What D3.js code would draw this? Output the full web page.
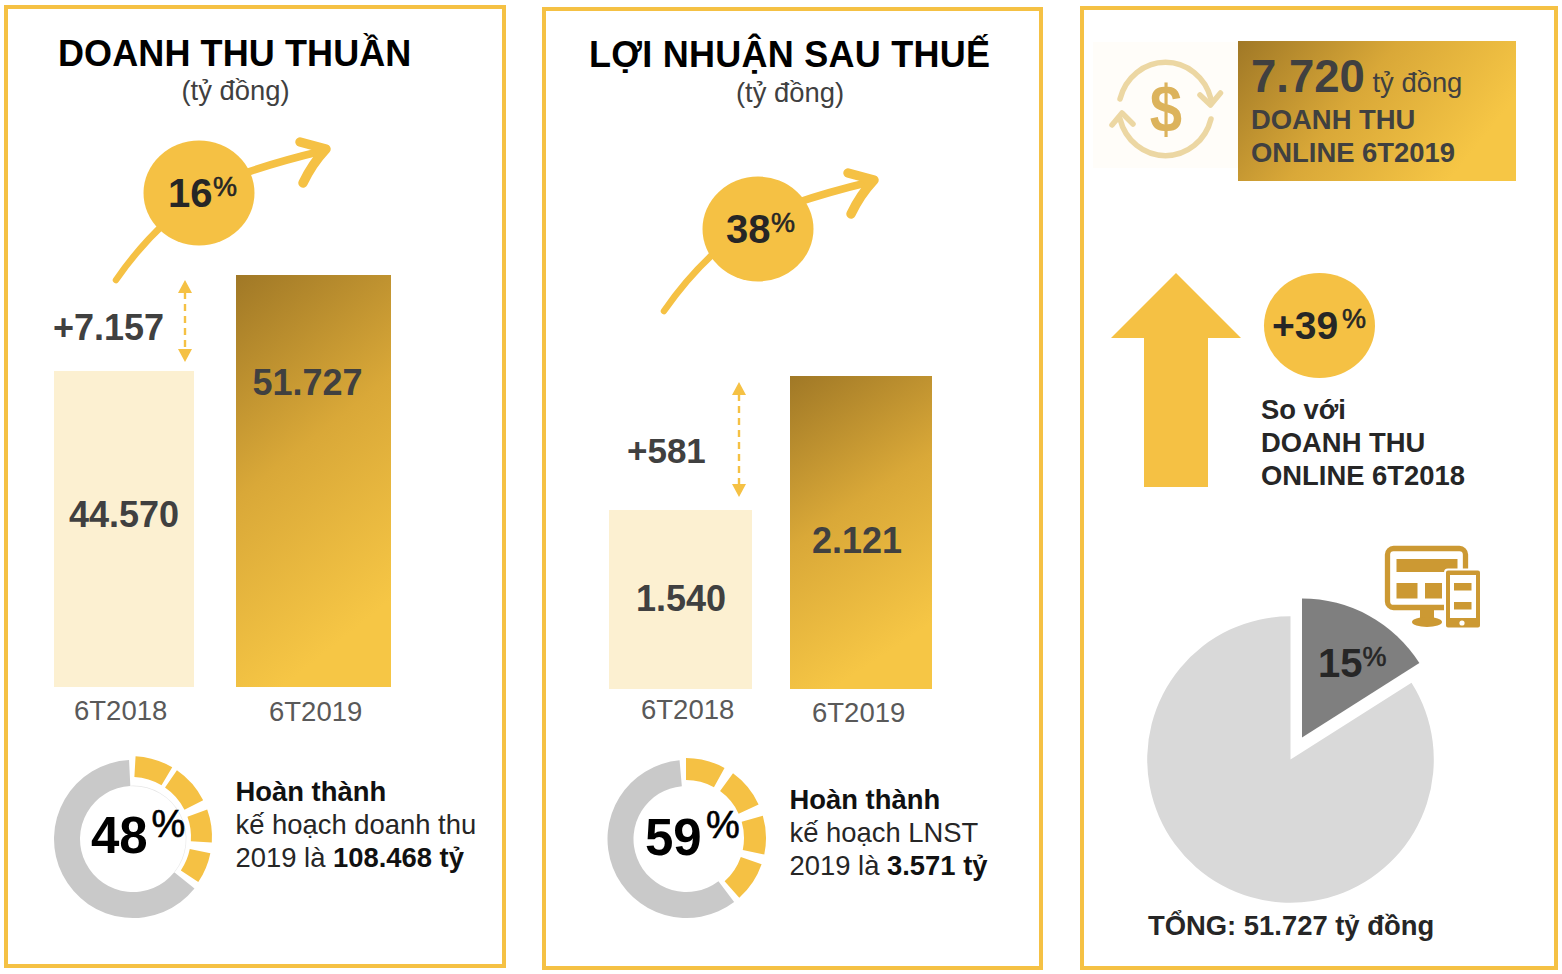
<!DOCTYPE html>
<html>
<head>
<meta charset="utf-8">
<title>Kết quả kinh doanh 6T2019</title>
<script src="https://cdn.jsdelivr.net/npm/d3@7/dist/d3.min.js"></script>
<style>
    html, body { margin: 0; padding: 0; background: #fff; }
    svg { display: block; }
    text { font-family: "Liberation Sans", Arial, sans-serif; }
</style>
</head>
<body>
<div id="chart"></div>
<script>
// Values.
var periods = ["6T2018", "6T2019"];
var revenueValues = [44570, 51727];
var profitValues = [1540, 2121];

// The bars in the picture do not start at zero, these are the implied baselines.
var revenueBase = 21000;
var profitBase = 764;

// Ring segments, in percent of the circle (from, to), as they are drawn in the picture.
var revenueRingGold = [[0.9, 8.5], [9.6, 17.5], [19.5, 26.1], [28.2, 34.4]];
var revenueRingGrey = [35.8, 99.2];
var profitRingGold = [[0, 8], [10, 18.1], [20.5, 28.3], [30.3, 38.4]];
var profitRingGrey = [39.7, 98.6];

// Online share pie, the drawn wedge is a bit wider than its 15% label.
var onlineShare = [16, 84];

var GOLD = "#f5c144";
var DARK = "#404040";
var INK = "#262626";
var BODY = 27.4;

var svg = d3.select("#chart").append("svg")
    .attr("width", 1562)
    .attr("height", 974);

var fmt = d3.formatLocale({decimal: ",", thousands: ".", grouping: [3], currency: ["", ""]}).format(",d");

// Gold gradient shared by the big bars and the box.
var defs = svg.append("defs");
function addGradient(id, x2, y2) {
    var g = defs.append("linearGradient").attr("id", id)
        .attr("x1", 0).attr("y1", 0).attr("x2", x2).attr("y2", y2);
    g.append("stop").attr("offset", "0%").attr("stop-color", "#a07826");
    g.append("stop").attr("offset", "50%").attr("stop-color", "#d9a838");
    g.append("stop").attr("offset", "100%").attr("stop-color", "#f6c645");
}
addGradient("barGold", 0.3, 1);
addGradient("boxGold", 1, 0.4);

function label(x, y, str, size, weight, color, anchor) {
    return svg.append("text")
        .attr("x", x)
        .attr("y", y)
        .attr("font-size", size)
        .attr("font-weight", weight || "normal")
        .attr("fill", color || INK)
        .attr("text-anchor", anchor || "start")
        .text(str);
}

// number with the small raised percent sign
function percent(x, y, num, size, signX, signY, signSize, color) {
    label(x, y, num, size, "bold", color || INK);
    label(signX, signY, "%", signSize, "normal", color || INK)
        .attr("stroke", color || INK)
        .attr("stroke-width", 0.6);
}

function panel(x, y, w, h) {
    svg.append("rect")
        .attr("x", x).attr("y", y)
        .attr("width", w).attr("height", h)
        .attr("fill", "#fff")
        .attr("stroke", GOLD)
        .attr("stroke-width", 4);
}

// the curved arrow that passes behind the growth circle
function growthArrow(dx, dy) {
    var g = svg.append("g")
        .attr("transform", "translate(" + dx + "," + dy + ")")
        .attr("fill", "none")
        .attr("stroke", GOLD)
        .attr("stroke-linecap", "round")
        .attr("stroke-linejoin", "round");
    g.append("path").attr("stroke-width", 6.5)
        .attr("d", "M116,280 Q138,248 166,222");
    g.append("path").attr("stroke-width", 7.5)
        .attr("d", "M245,173 Q280,161 322,151");
    g.append("path").attr("stroke-width", 9.5)
        .attr("d", "M300,142 L326,149 Q312,164 303,183");
}

function growthCircle(cx, cy) {
    svg.append("ellipse")
        .attr("cx", cx).attr("cy", cy)
        .attr("rx", 55.5).attr("ry", 52.5)
        .attr("fill", GOLD);
}

function doubleArrow(x, y1, y2) {
    svg.append("line")
        .attr("x1", x).attr("x2", x)
        .attr("y1", y1 + 12).attr("y2", y2 - 12)
        .attr("stroke", GOLD)
        .attr("stroke-width", 2.4)
        .attr("stroke-dasharray", "7,5");
    svg.append("path")
        .attr("fill", GOLD)
        .attr("d", "M" + x + "," + y1 + " l7,13 h-14 z M" + x + "," + y2 + " l7,-13 h-14 z");
}

// Two bars of a panel, y comes from a truncated linear scale.
function bars(values, base, bottom, top, layout) {
    var y = d3.scaleLinear()
        .domain([base, d3.max(values)])
        .range([bottom, top]);
    var left = d3.scaleOrdinal().domain(periods).range(layout.x);
    var width = d3.scaleOrdinal().domain(periods).range(layout.w);
    var rows = periods.map(function (p, i) {
        return {period: p, value: values[i], index: i};
    });

    svg.selectAll(null)
        .data(rows)
        .enter()
        .append("rect")
        .attr("x", function (d) { return left(d.period); })
        .attr("y", function (d) { return y(d.value); })
        .attr("width", function (d) { return width(d.period); })
        .attr("height", function (d) { return bottom - y(d.value); })
        .attr("fill", function (d) { return d.index == 0 ? "#fcf0d1" : "url(#barGold)"; });

    rows.forEach(function (d) {
        label(layout.valueX[d.index], layout.valueY[d.index], fmt(d.value), 36, "bold", DARK);
        label(layout.tickX[d.index], layout.tickY[d.index], d.period, 27.5, "normal", "#595959");
    });
}

// Progress ring, grey part and the gold pieces have slightly different centres.
function ring(cx, cy, grey, gold, goldCx, goldCy, goldInner, goldOuter, hairline) {
    var turn = d3.scaleLinear().domain([0, 100]).range([0, 2 * Math.PI]);
    var arc = d3.arc();

    svg.append("path")
        .attr("transform", "translate(" + cx + "," + cy + ")")
        .attr("fill", "#c9c9c9")
        .attr("d", arc({
            innerRadius: 53, outerRadius: 79,
            startAngle: turn(grey[0]), endAngle: turn(grey[1])
        }));
    if (hairline) {
        svg.append("path")
            .attr("transform", "translate(" + cx + "," + cy + ")")
            .attr("fill", "#e6e6e6")
            .attr("d", arc({
                innerRadius: 52.8, outerRadius: 53.4,
                startAngle: turn(grey[1] - 100), endAngle: turn(grey[0])
            }));
    }
    svg.append("g")
        .attr("transform", "translate(" + goldCx + "," + goldCy + ")")
        .selectAll("path")
        .data(gold)
        .enter()
        .append("path")
        .attr("fill", GOLD)
        .attr("d", function (d) {
            return arc({
                innerRadius: goldInner, outerRadius: goldOuter,
                startAngle: turn(d[0]), endAngle: turn(d[1])
            });
        });
}

function planText(x, y, line2, year, amount) {
    label(x, y, "Hoàn thành", BODY, "bold", "#111");
    label(x, y + 33, line2, BODY, "normal", INK);
    var t = label(x, y + 66, year + " là ", BODY, "normal", INK);
    t.append("tspan").attr("font-weight", "bold").attr("fill", "#111").text(amount);
}

//Panel 1
panel(6, 7, 498, 959);
label(58, 66, "DOANH THU THUẦN", 36, "bold", "#000").attr("letter-spacing", 0.1);
label(235.5, 100, "(tỷ đồng)", BODY, "normal", DARK, "middle");
growthArrow(0, 0);
growthCircle(199, 193);
percent(168, 207, "16", 40, 213, 196, 27);
doubleArrow(185, 280, 362);
label(53, 340, "+7.157", 36, "bold", DARK);
bars(revenueValues, revenueBase, 687, 275, {
    x: [54, 236], w: [140, 155],
    valueX: [69, 252.5], valueY: [527, 395],
    tickX: [74, 269], tickY: [720, 721]
});
ring(133, 839, revenueRingGrey, revenueRingGold, 131, 837, 60, 81, true);
percent(91, 853, "48", 51, 151.5, 837, 38, "#000");
planText(235.5, 801, "kế hoạch doanh thu", "2019", "108.468 tỷ");

//Panel 2
panel(544, 9, 497, 959);
label(589, 67, "LỢI NHUẬN SAU THUẾ", 36, "bold", "#000").attr("letter-spacing", 0.25);
label(790, 102, "(tỷ đồng)", BODY, "normal", DARK, "middle");
growthArrow(548, 31);
growthCircle(758, 229);
percent(726, 243, "38", 40, 771, 232, 27);
doubleArrow(739, 382, 497);
label(627, 463, "+581", 35, "bold", DARK);
bars(profitValues, profitBase, 689, 376, {
    x: [609, 790], w: [143, 142],
    valueX: [636, 812], valueY: [611, 553],
    tickX: [641, 812], tickY: [719, 722]
});
ring(686.5, 839, profitRingGrey, profitRingGold, 686, 838, 58, 80, false);
percent(645, 855, "59", 51, 706, 838, 38, "#000");
planText(789.5, 809, "kế hoạch LNST", "2019", "3.571 tỷ");

//Panel 3
panel(1082, 8, 474, 960);

// money icon with the two round arrows
svg.append("rect")
    .attr("x", 1093).attr("y", 42)
    .attr("width", 145).attr("height", 126)
    .attr("fill", "#fffdf9");
var money = svg.append("g")
    .attr("transform", "translate(1166,109)")
    .attr("fill", "none")
    .attr("stroke", "#ecd7a3")
    .attr("stroke-width", 5.5)
    .attr("stroke-linecap", "round")
    .attr("stroke-linejoin", "round");
money.append("path").attr("d", "M-46,-10 A47,49 0 0 1 45,-10");
money.append("path").attr("d", "M34,-14 L44.5,-4 L54.5,-16");
money.append("path").attr("d", "M45,10 A47,49 0 0 1 -46,10");
money.append("path").attr("d", "M-54,16 L-44,4 L-33,15");
label(0, 0, "$", 66, "bold", "#dcb35c", "middle")
    .attr("transform", "translate(1166,132) scale(0.88,1)");

svg.append("rect")
    .attr("x", 1238).attr("y", 41)
    .attr("width", 278).attr("height", 140)
    .attr("fill", "url(#boxGold)");
label(1251, 92, "7.720", 45.5, "bold", DARK);
label(1372.5, 92, "tỷ đồng", BODY, "normal", DARK);
label(1251, 129, "DOANH THU", BODY, "bold", DARK);
label(1251, 162, "ONLINE 6T2019", BODY, "bold", DARK);

// big up arrow
svg.append("path")
    .attr("fill", GOLD)
    .attr("d", "M1176,273 L1241,338 H1208 V487 H1144 V338 H1111 Z");

growthCircle(1319.5, 325.5);
percent(1272, 339, "+39", 39, 1342, 328, 27);
label(1261, 419, "So với", BODY, "bold", INK);
label(1261, 452, "DOANH THU", BODY, "bold", INK);
label(1261, 485, "ONLINE 6T2018", BODY, "bold", INK);

// device icon
var device = svg.append("g").attr("fill", "#cc9933");
device.append("rect")
    .attr("x", 1387.5).attr("y", 548.5)
    .attr("width", 78).attr("height", 59).attr("rx", 6)
    .attr("fill", "none").attr("stroke", "#cc9933").attr("stroke-width", 5.3);
device.append("rect").attr("x", 1396.5).attr("y", 559).attr("width", 61).attr("height", 13);
device.append("rect").attr("x", 1396.5).attr("y", 583).attr("width", 21).attr("height", 15.5);
device.append("rect").attr("x", 1425).attr("y", 583).attr("width", 17).attr("height", 15.5);
device.append("rect").attr("x", 1420).attr("y", 608).attr("width", 14).attr("height", 10);
device.append("ellipse").attr("cx", 1427).attr("cy", 622).attr("rx", 15).attr("ry", 5);
device.append("rect")
    .attr("x", 1445).attr("y", 569.5)
    .attr("width", 36).attr("height", 59).attr("rx", 3)
    .attr("fill", "#cc9933").attr("stroke", "#fff").attr("stroke-width", 2);
device.append("rect").attr("x", 1450).attr("y", 575).attr("width", 26).attr("height", 43).attr("fill", "#fff");
device.append("rect").attr("x", 1454).attr("y", 583).attr("width", 17.5).attr("height", 7.5);
device.append("rect").attr("x", 1454).attr("y", 602).attr("width", 17.5).attr("height", 7.5);
device.append("circle").attr("cx", 1462).attr("cy", 623).attr("r", 2.6).attr("fill", "#fff");

// online share pie
var pieLayout = d3.pie().sort(null)(onlineShare);
var pieArc = d3.arc().innerRadius(0);
svg.append("path")
    .attr("transform", "translate(1290.5,759.5)")
    .attr("fill", "#d9d9d9")
    .attr("d", pieArc.outerRadius(143.3)(pieLayout[1]));
svg.append("path")
    .attr("transform", "translate(1302,737.5)")
    .attr("fill", "#7f7f7f")
    .attr("d", pieArc.outerRadius(139)(pieLayout[0]));
percent(1318, 677, "15", 40, 1362.5, 666, 27);
label(1148, 935, "TỔNG: 51.727 tỷ đồng", BODY, "bold", INK);
</script>
</body>
</html>
